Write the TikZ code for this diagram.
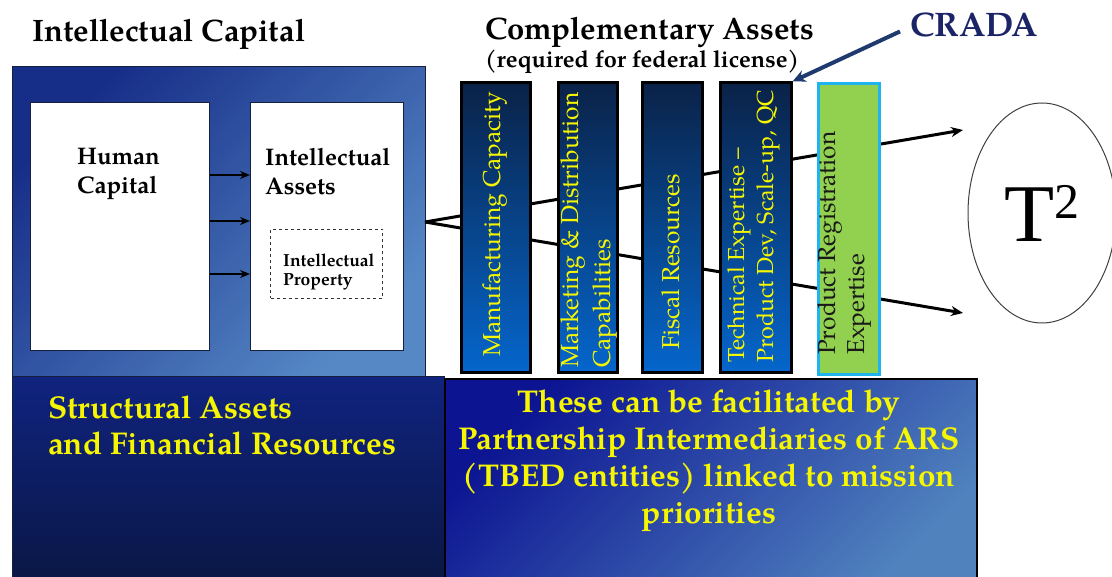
\documentclass[tikz,border=0pt]{standalone}
\usepackage{fontspec}
\setmainfont{TeX Gyre Pagella}
\newfontfamily\tmsfont{Liberation Serif}
\usetikzlibrary{arrows.meta,shapes.geometric}

\definecolor{icTop}{HTML}{172E88}
\definecolor{icBot}{HTML}{5688C6}
\definecolor{saTop}{HTML}{10237F}
\definecolor{saBot}{HTML}{0A1746}
\definecolor{piTop}{HTML}{0C1492}
\definecolor{piBot}{HTML}{5082BE}
\definecolor{colTop}{HTML}{0A2248}
\definecolor{colBot}{HTML}{0566CC}
\definecolor{regFill}{HTML}{92D050}
\definecolor{regLine}{HTML}{1FB4EE}
\definecolor{yel}{HTML}{F6F600}
\definecolor{navy}{HTML}{1C2468}
\definecolor{crArrow}{HTML}{1F3A6E}
\definecolor{panelLine}{HTML}{14203C}

\tikzset{
  panel/.style={draw=panelLine, line width=1pt, inner sep=0pt, anchor=north west},
  whitebox/.style={draw=panelLine, fill=white, line width=1.2pt, inner sep=0pt, anchor=north west},
  assetcol/.style={draw=black, line width=3pt, top color=colTop, bottom color=colBot,
    inner sep=0pt, anchor=north west, minimum height=290pt},
  coltext/.style={rotate=90, anchor=west, align=left, text=yel, inner sep=0pt,
    font=\fontsize{24.5}{30}\selectfont},
  headline/.style={anchor=base west, inner sep=0pt, font=\bfseries\fontsize{31}{34}\selectfont},
  boxtext/.style={anchor=west, align=left, inner sep=0pt, font=\bfseries\fontsize{24}{29}\selectfont},
  smallarrow/.style={line width=1.8pt, -{Stealth[length=10pt,width=8pt]}},
  fanarrow/.style={line width=3pt, -{Stealth[length=12pt,width=10pt]}},
}

\begin{document}
\begin{tikzpicture}[x=1pt,y=-1pt]
\useasboundingbox (0,0) rectangle (1112,577);

% panels
\node[panel, top color=icTop, bottom color=icBot, shading angle=45,
  minimum width=413pt, minimum height=310pt] (ic) at (12,66) {};
\node[panel, top color=saTop, bottom color=saBot,
  minimum width=432pt, minimum height=202pt] (sa) at (12,376) {};
\node[panel, draw=black, line width=2pt, top color=piTop, bottom color=piBot, shading angle=45,
  minimum width=532pt, minimum height=212pt] (pi) at (444,378) {};

% intellectual capital contents
\node[whitebox, minimum width=179pt, minimum height=248pt] (hc) at (30,102) {};
\node[whitebox, minimum width=153pt, minimum height=248pt] (ia) at (250,102) {};
\node[draw=black!80, dashed, line width=1pt, anchor=north west, inner sep=0pt,
  minimum width=112pt, minimum height=69pt] (ip) at (270,229) {};

\node[boxtext] (hcText) at (77,174) {Human\\Capital};
\node[boxtext] (iaText) at (265,172) {Intellectual\\Assets};
\node[anchor=west, align=left, inner sep=0pt, font=\bfseries\fontsize{17.5}{19.5}\selectfont]
  (ipText) at (283,272) {Intellectual\\Property};

\foreach \yy in {175,221,274}
  \draw[smallarrow] (hc.east |- 0,\yy) -- (ia.west |- 0,\yy);

% headings
\node[headline] (icTitle) at (32,42) {Intellectual Capital};
\node[headline] (caTitle) at (485,40) {Complementary Assets};
\node[anchor=base west, inner sep=0pt, font=\bfseries\fontsize{23.5}{26}\selectfont]
  (caSub) at (485,68) {(required for federal license)};
\node[anchor=base west, inner sep=0pt, text=navy, font=\bfseries\fontsize{34}{36}\selectfont]
  (crada) at (910,37) {CRADA};

% flow towards technology transfer
\coordinate (fork) at (425,222);
\coordinate (upEnd) at (963,130);
\coordinate (lowEnd) at (963,313);
\draw[fanarrow] (fork) -- (upEnd);
\draw[fanarrow] (fork) -- (lowEnd);

% complementary asset columns
\node[assetcol, minimum width=69pt] (manu) at (459.5,81.5) {};
\node[assetcol, minimum width=59pt] (mark) at (556.5,81.5) {};
\node[assetcol, minimum width=60pt] (fisc) at (640.5,81.5) {};
\node[assetcol, minimum width=71pt] (tech) at (718.5,81.5) {};
\node[draw=regLine, line width=3pt, fill=regFill, inner sep=0pt, anchor=north west,
  minimum width=61pt, minimum height=291pt] (preg) at (816.5,82.5) {};

\node[coltext] (manuText) at (495,357) {Manufacturing Capacity};
\node[coltext, font=\fontsize{24.5}{32}\selectfont] (markText) at (589,368)
  {Marketing \& Distribution\\Capabilities};
\node[coltext] (fiscText) at (671,350) {Fiscal Resources};
\node[coltext, font=\fontsize{23.2}{28.5}\selectfont] (techText) at (754,363)
  {Technical Expertise –\\Product Dev, Scale-up, QC};
\node[coltext, text=black!90, font=\fontsize{24.5}{29}\selectfont] (pregText) at (845,355)
  {Product Registration\\Expertise};

\draw[crArrow, line width=4pt, -{Stealth[length=13pt,width=12pt]}]
  ([xshift=-10pt,yshift=-6pt]crada.west) -- (tech.north east);

% T squared
\node[draw=black!75, line width=1pt, ellipse, inner sep=0pt,
  minimum width=148pt, minimum height=220pt] (tt) at (1042,213)
  {\tmsfont\fontsize{82}{84}\selectfont T\raisebox{23pt}{\fontsize{50}{52}\selectfont 2}};

% lower panel texts
\node[anchor=north west, align=left, inner sep=0pt, text=yel,
  font=\bfseries\fontsize{31.5}{36}\selectfont] (saText) at (48,396)
  {Structural Assets\\and Financial Resources};
\node[align=center, inner sep=0pt, text=yel,
  font=\bfseries\fontsize{31.5}{37}\selectfont] (piText) at (709,461)
  {These can be facilitated by\\Partnership Intermediaries of ARS\\(TBED entities) linked to mission\\priorities};
\end{tikzpicture}
\end{document}
